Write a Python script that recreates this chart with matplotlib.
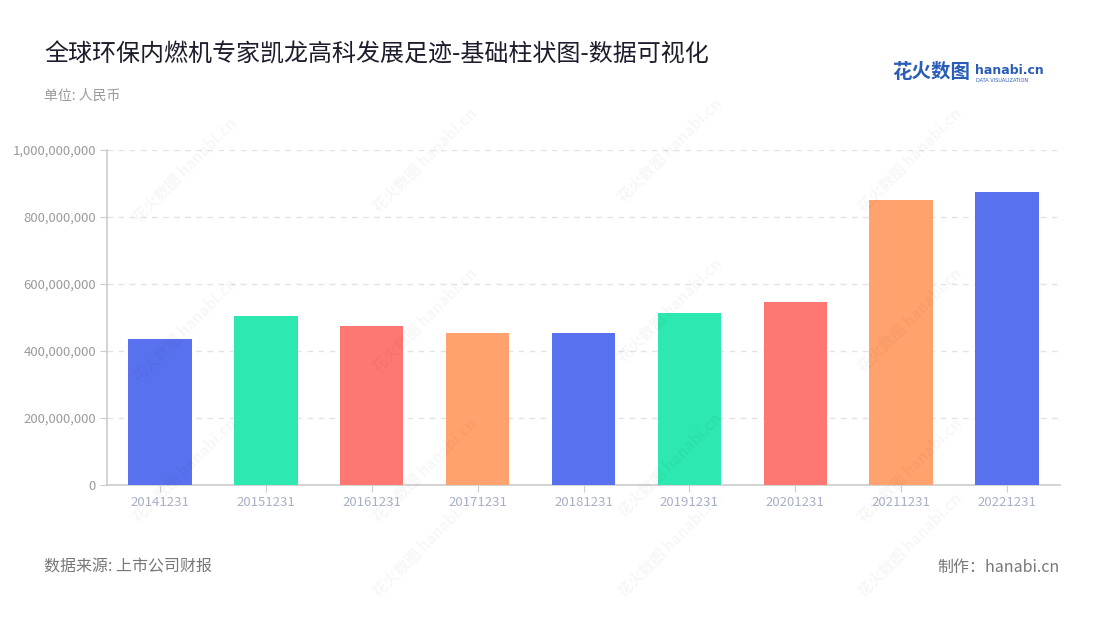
import matplotlib.pyplot as plt
from matplotlib.ticker import FuncFormatter, MultipleLocator

plt.rcParams['font.family'] = ['Noto Sans CJK SC', 'DejaVu Sans']

# data (RMB)
dates = ['20141231', '20151231', '20161231', '20171231', '20181231',
         '20191231', '20201231', '20211231', '20221231']
revenue = [437e6, 503e6, 476e6, 455e6, 453e6, 512e6, 545e6, 852e6, 875e6]
palette = ['#5871ef', '#2de8b0', '#ff7772', '#ffa26e']
bar_colors = [palette[i % 4] for i in range(len(dates))]

fig = plt.figure(figsize=(11, 6.2), dpi=100)
ax = fig.add_axes([107 / 1100, 135 / 620, 953 / 1100, 335 / 620])

x = list(range(len(dates)))
ax.bar(x, revenue, width=0.6, color=bar_colors, zorder=3)

ax.set_xlim(-0.5, len(dates) - 0.5)
ax.set_ylim(0, 1e9)
ax.yaxis.set_major_locator(MultipleLocator(2e8))
ax.yaxis.set_major_formatter(FuncFormatter(lambda v, p: f'{int(v):,}'))
ax.set_xticks(x)
ax.set_xticklabels(dates)

ax.yaxis.grid(True, linestyle=(0, (4, 4)), color='#e3e3e3', lw=1, zorder=0)
for s in ['top', 'right']:
    ax.spines[s].set_visible(False)
for s in ['left', 'bottom']:
    ax.spines[s].set_color('#cccccc')
    ax.spines[s].set_linewidth(1.2)
ax.tick_params(axis='y', colors='#cccccc', labelcolor='#9a9a9a', labelsize=9.5, length=5, pad=3)
ax.tick_params(axis='x', colors='#cccccc', labelcolor='#a8b0c6', labelsize=9.5, length=5, pad=3)

# faint watermarks
for wx, wy in [(185, 170), (425, 160), (670, 150), (910, 160),
               (185, 330), (425, 320), (670, 310), (910, 320),
               (185, 470), (425, 470), (670, 465), (910, 470),
               (425, 545), (670, 545), (910, 545)]:
    fig.text(wx / 1100, 1 - wy / 620, '花火数图 hanabi.cn', rotation=45, fontsize=11,
             color='#000000', alpha=0.035, ha='center', va='center', fontweight='bold')

fig.text(44 / 1100, 1 - 55 / 620, '全球环保内燃机专家凯龙高科发展足迹-基础柱状图-数据可视化',
         fontsize=17.3, color='#1c1c2c', va='center', ha='left')
fig.text(44 / 1100, 1 - 96 / 620, '单位: 人民币', fontsize=10, color='#9a9a9a',
         va='center', ha='left')
fig.text(44 / 1100, 1 - 567 / 620, '数据来源: 上市公司财报', fontsize=11.5, color='#777777',
         va='center', ha='left')
fig.text(1060 / 1100, 1 - 567 / 620, '制作：hanabi.cn', fontsize=11.5, color='#777777',
         va='center', ha='right')

# logo
fig.text(892 / 1100, 1 - 73 / 620, '花火数图', fontsize=14, color='#2a5db8',
         fontweight='bold', va='center', ha='left')
fig.text(975 / 1100, 1 - 70 / 620, 'hanabi.cn', fontsize=9, color='#2a5db8',
         fontweight='bold', va='center', ha='left', family='DejaVu Sans')
fig.text(976 / 1100, 1 - 80 / 620, 'DATA VISUALIZATION', fontsize=3.6, color='#2a5db8',
         va='center', ha='left', family='DejaVu Sans')

fig.savefig('out.png', dpi=100, facecolor='white')
